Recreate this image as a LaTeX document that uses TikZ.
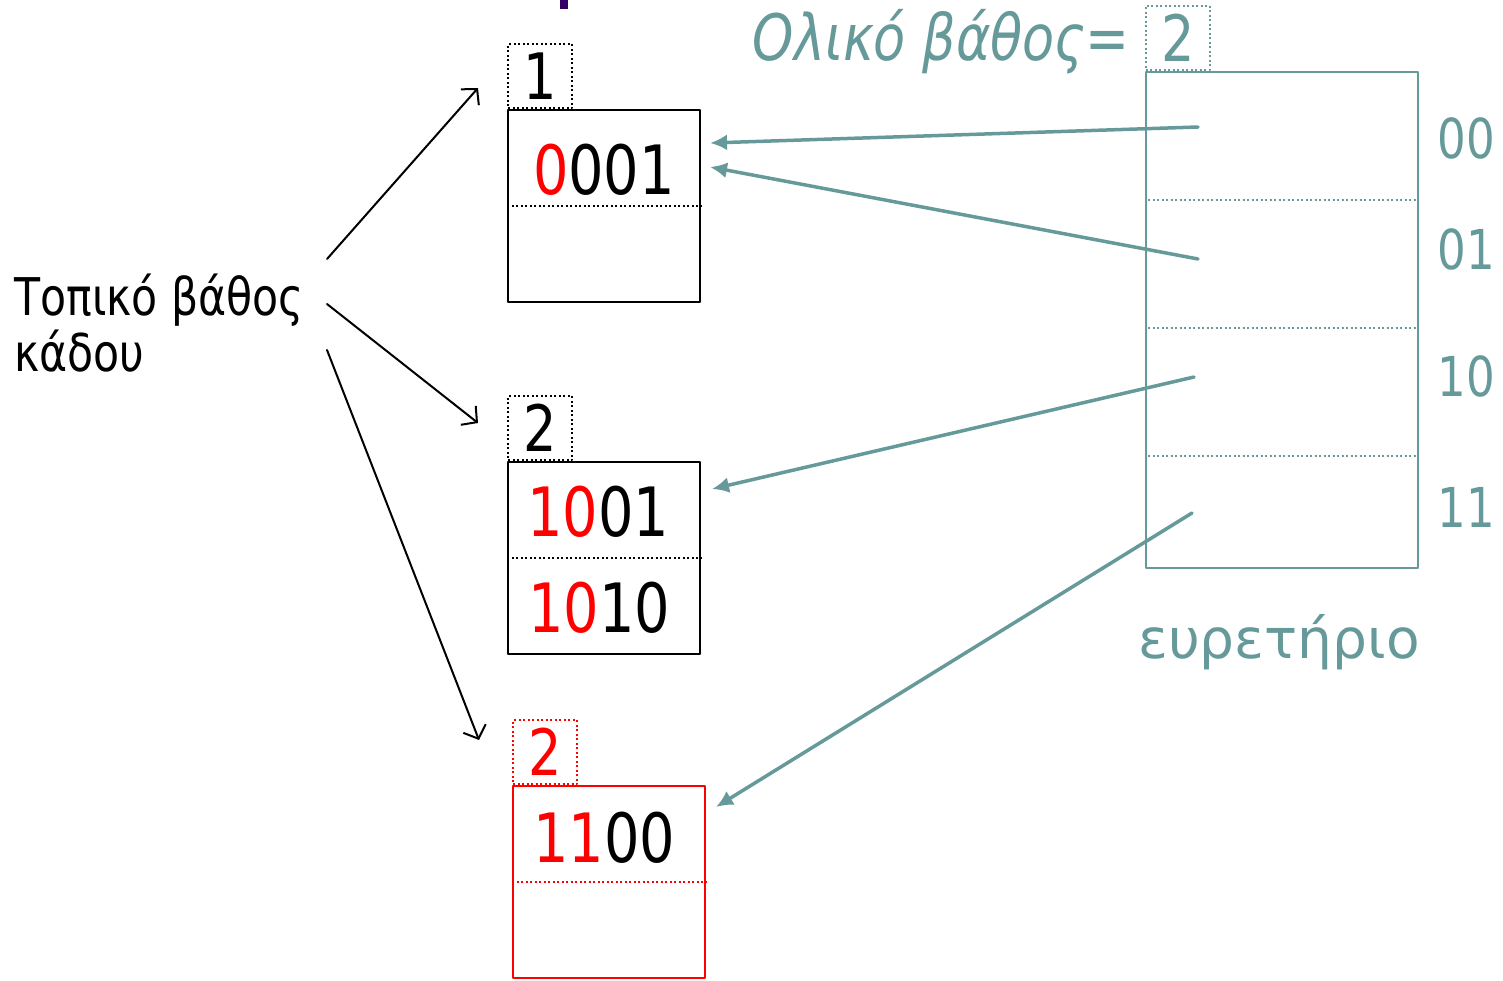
\documentclass[tikz,border=0pt]{standalone}
\usepackage{fontspec}
\setmainfont{DejaVu Sans}[FakeStretch=0.82]
\newfontfamily\widefont{DejaVu Sans}
\usetikzlibrary{arrows.meta}
\definecolor{dirteal}{RGB}{102,153,153}
\definecolor{keyred}{RGB}{255,0,0}
\definecolor{titlepurple}{RGB}{51,0,102}
\newcommand{\bigdig}{\fontsize{68}{80}\selectfont}
\newcommand{\middig}{\fontsize{64}{76}\selectfont}
\newcommand{\smalldig}{\fontsize{55}{66}\selectfont}
\newcommand{\lbltext}{\fontsize{52}{56}\selectfont}
\tikzset{
  bucket/.style={draw, line width=2pt, minimum width=192pt, minimum height=192pt, inner sep=0pt},
  depthbox/.style={draw, line width=2pt, line cap=butt, dash pattern=on 2pt off 2.5pt, minimum size=64pt, inner sep=0pt},
  rec/.style={inner sep=0pt},
  sep/.style={line width=2pt, line cap=butt, dash pattern=on 2pt off 2.5pt},
  ptr/.style={dirteal, line width=3.5pt, -{Latex[length=17pt,width=16pt]}},
  lptr/.style={line width=2pt, -{Straight Barb[length=11pt,width=24pt]}},
}
\begin{document}
\begin{tikzpicture}[x=1pt,y=-1pt,line join=round,line cap=round]
    \useasboundingbox (0,0) rectangle (1503,980);
    \fill[titlepurple] (560,0) rectangle (568,9);
    % buckets with their local depth
    \node[bucket] (b1) at (604,206) {};
    \node[bucket] (b2) at (604,558) {};
    \node[bucket,draw=keyred] (b3) at (609,882) {};
    \node[depthbox,anchor=south west] (d1) at (b1.north west) {\middig 1};
    \node[depthbox,anchor=south west] (d2) at (b2.north west) {\middig 2};
    \node[depthbox,draw=keyred,text=keyred,anchor=south west] (d3) at (b3.north west) {\middig 2};
    \draw[sep] (b1.west) -- (b1.east);
    \draw[sep] (b2.west) -- (b2.east);
    \draw[sep,keyred] (b3.west) -- (b3.east);
    \node[rec] (r1) at (604,170) {\bigdig\textcolor{keyred}{0}001};
    \node[rec] (r2) at (598,512) {\bigdig\textcolor{keyred}{10}01};
    \node[rec] (r3) at (599,608) {\bigdig\textcolor{keyred}{10}10};
    \node[rec] (r4) at (604,838) {\bigdig\textcolor{keyred}{11}00};
    % directory
    \node[draw=dirteal,line width=2.5pt,minimum width=272pt,minimum height=496pt,inner sep=0pt] (dir) at (1282,320) {};
    \foreach \y in {200,328,456}
        \draw[sep,dirteal] (1148,\y) -- (1416,\y);
    \node[depthbox,draw=dirteal,text=dirteal,anchor=south west] (gd) at (dir.north west) {\middig 2};
    \node[dirteal,rec,anchor=base east] (gl) at (1130,60) {\middig\itshape Ολικό βάθος=};
    \foreach \lab/\y in {00/138,01/249,10/376,11/507}
        \node[dirteal,rec] (i\lab) at (1466,\y) {\smalldig\lab};
    \node[dirteal,rec,anchor=base] (dname) at (1279,658) {\widefont\smalldig ευρετήριο};
    % local depth label
    \node[rec,align=left,anchor=north west,font=\lbltext] (loc) at (14,274) {Τοπικό βάθος\\κάδου};
    \coordinate (s1) at (327,259); \coordinate (e1) at (478,88);
    \coordinate (s2) at (327,304); \coordinate (e2) at (478,423);
    \coordinate (s3) at (327,350); \coordinate (e3) at (479,740);
    \draw[lptr] (s1) -- (e1);
    \draw[lptr] (s2) -- (e2);
    \draw[lptr] (s3) -- (e3);
    % directory pointers
    \coordinate (p00) at (1198,127); \coordinate (t00) at (710,143);
    \coordinate (p01) at (1198,259); \coordinate (t01) at (710,167);
    \coordinate (p10) at (1194,377); \coordinate (t10) at (712,489);
    \coordinate (p11) at (1192,513); \coordinate (t11) at (716,807);
    \draw[ptr] (p00) -- (t00);
    \draw[ptr] (p01) -- (t01);
    \draw[ptr] (p10) -- (t10);
    \draw[ptr] (p11) -- (t11);
\end{tikzpicture}
\end{document}
